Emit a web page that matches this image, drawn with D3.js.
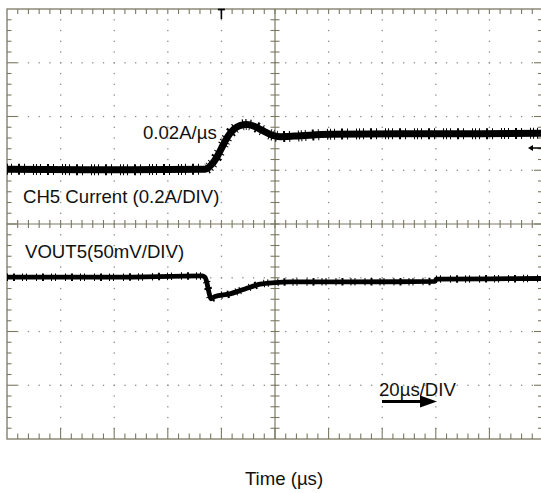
<!DOCTYPE html>
<html>
<head>
<meta charset="utf-8">
<script src="https://cdn.jsdelivr.net/npm/d3@7"></script>
<style>
  html, body { margin: 0; padding: 0; background: #fff; }
  svg { display: block; }
  text { font-family: "Liberation Sans", Arial, Helvetica, sans-serif; fill: #111; }
</style>
</head>
<body>
<svg id="chart" width="541" height="493"></svg>
<script>
// Load-step transient: inductor current (CH5) and output voltage (VOUT5)

// CH5 current, in amps above its pre-step level
const currentTime = [0, 35, 73.9, 76.5, 78.7, 80.6, 82.5, 84.7, 86.9, 89.5, 92.2, 95.1, 98.1, 101.9, 107.5, 120.5, 146.6, 172.8, 200];
const currentAmps = [0, -0.002, 0, 0.019, 0.052, 0.089, 0.123, 0.149, 0.162, 0.166, 0.160, 0.145, 0.130, 0.121, 0.123, 0.130, 0.132, 0.132, 0.134];

// VOUT5 deviation from its nominal value, in mV
const voutTime = [0, 40, 72.8, 73.9, 74.6, 75.4, 76.1, 77.6, 83.2, 86.9, 90.7, 94.4, 100, 105.6, 146.6, 159.7, 160.1, 180, 200];
const voutMilliVolts = [0, 0, 1.2, 0, -5.3, -14.6, -20.2, -18.0, -15.5, -12.5, -9.3, -6.5, -5.0, -4.4, -4.2, -3.9, -1.8, -1.5, -1.2];

// Scope settings
const timePerDiv = 20;          // µs
const currentPerDiv = 0.2;      // A
const voltsPerDiv = 50;         // mV
const currentOffsetDiv = 1.02;  // trace position on screen, divisions
const voutOffsetDiv = -0.99;
const triggerTime = 80;         // µs
const hDivs = 10, vDivs = 8, minorPerDiv = 5;

// Text
const currentSlopeLabel = "0.02A/\u00b5s";
const currentLabel = "CH5 Current (0.2A/DIV)";
const voutLabel = "VOUT5(50mV/DIV)";
const timebaseLabel = "20\u00b5s/DIV";
const xTitle = "Time (\u00b5s)";

const svg = d3.select("#chart");
const frameColor = "#7b7862";
const dotColor = "#8e8c80";

const x = d3.scaleLinear().domain([0, hDivs * timePerDiv]).range([7, 543]);
const y = d3.scaleLinear().domain([-vDivs / 2, vDivs / 2]).range([439, 9]);
const xDiv = d3.scaleLinear().domain([0, hDivs]).range(x.range());

const [x0, x1] = x.range();
const [yB, yT] = y.range();

// dotted graticule
const gDots = svg.append("g");
const minorX = d3.range(0, hDivs * minorPerDiv + 1).map(i => i / minorPerDiv);
const minorY = d3.range(-vDivs / 2 * minorPerDiv, vDivs / 2 * minorPerDiv + 1).map(i => i / minorPerDiv);
d3.range(1, vDivs).map(j => j - vDivs / 2).filter(v => v !== 0).forEach(v => {
  gDots.selectAll(null).data(minorX.slice(1, -1)).enter().append("rect")
    .attr("x", d => xDiv(d) - 0.6).attr("y", y(v) - 0.6)
    .attr("width", 1.3).attr("height", 1.3).attr("fill", dotColor);
});
d3.range(1, hDivs).filter(d => d !== hDivs / 2).forEach(d => {
  gDots.selectAll(null).data(minorY.slice(1, -1)).enter().append("rect")
    .attr("x", xDiv(d) - 0.6).attr("y", v => y(v) - 0.6)
    .attr("width", 1.3).attr("height", 1.3).attr("fill", dotColor);
});

// frame, centre axes and their ticks
const gFrame = svg.append("g").attr("stroke", frameColor).attr("fill", "none");
gFrame.append("rect").attr("x", x0).attr("y", yT).attr("width", x1 - x0).attr("height", yB - yT).attr("stroke-width", 1.3);
gFrame.append("line").attr("x1", xDiv(hDivs / 2)).attr("x2", xDiv(hDivs / 2)).attr("y1", yT).attr("y2", yB).attr("stroke-width", 1.2);
gFrame.append("line").attr("x1", x0).attr("x2", x1).attr("y1", y(0)).attr("y2", y(0)).attr("stroke-width", 1.2);

const isMajor = v => Math.abs(v - Math.round(v)) < 1e-6;
minorX.slice(1, -1).forEach(d => {
  const px = xDiv(d);
  const maj = isMajor(d);
  gFrame.append("line").attr("x1", px).attr("x2", px).attr("y1", yT).attr("y2", yT + 5).attr("stroke-width", 1.1);
  gFrame.append("line").attr("x1", px).attr("x2", px).attr("y1", yB).attr("y2", yB - (maj ? 11 : 5.5)).attr("stroke-width", 1.1);
  gFrame.append("line").attr("x1", px).attr("x2", px).attr("y1", y(0) - 4).attr("y2", y(0) + 4).attr("stroke-width", 1.1);
});
minorY.slice(1, -1).forEach(v => {
  const py = y(v);
  const maj = isMajor(v);
  gFrame.append("line").attr("x1", x0).attr("x2", x0 + (maj ? 10 : 4.5)).attr("y1", py).attr("y2", py).attr("stroke-width", 1.1);
  gFrame.append("line").attr("x1", x1).attr("x2", x1 - (maj ? 9 : 5)).attr("y1", py).attr("y2", py).attr("stroke-width", 1.1);
  gFrame.append("line").attr("x1", xDiv(hDivs / 2) - 4.5).attr("x2", xDiv(hDivs / 2) + 4.5).attr("y1", py).attr("y2", py).attr("stroke-width", 1.1);
});

// traces
svg.append("clipPath").attr("id", "plotClip").append("rect")
  .attr("x", x0).attr("y", yT).attr("width", x1 - x0).attr("height", yB - yT);

const currentData = currentTime.map((t, i) => [t, currentOffsetDiv + currentAmps[i] / currentPerDiv]);
const voutData = voutTime.map((t, i) => [t, voutOffsetDiv + voutMilliVolts[i] / voltsPerDiv]);
const line = d3.line().x(d => x(d[0])).y(d => y(d[1])).curve(d3.curveMonotoneX);

const gTraces = svg.append("g").attr("clip-path", "url(#plotClip)").attr("fill", "none").attr("stroke", "#000");
// noisy fringe on either side of each trace, then the solid core
gTraces.append("path").attr("d", line(currentData)).attr("stroke-width", 11)
  .attr("stroke-dasharray", "1 3 1 6 2 4 1 8 1 2").attr("stroke-linejoin", "round");
gTraces.append("path").attr("d", line(currentData)).attr("stroke-width", 7).attr("stroke-linejoin", "round");
gTraces.append("path").attr("d", line(voutData)).attr("stroke-width", 7.5)
  .attr("stroke-dasharray", "1 5 2 7 1 3 1 9").attr("stroke-linejoin", "round");
gTraces.append("path").attr("d", line(voutData)).attr("stroke-width", 4.8).attr("stroke-linejoin", "round");

// trigger position marker
const trigX = x(triggerTime);
svg.append("line").attr("x1", trigX - 3.5).attr("x2", trigX + 3.5).attr("y1", yT + 0.5).attr("y2", yT + 0.5).attr("stroke", "#000").attr("stroke-width", 1.8);
svg.append("line").attr("x1", trigX).attr("x2", trigX).attr("y1", yT).attr("y2", yT + 10).attr("stroke", "#000").attr("stroke-width", 1.6);

// trigger level marker on the right edge
const trigLevelY = 148;
svg.append("line").attr("x1", 532).attr("x2", 541).attr("y1", trigLevelY).attr("y2", trigLevelY).attr("stroke", "#000").attr("stroke-width", 1.5);
svg.append("path").attr("d", `M528,${trigLevelY} L533,${trigLevelY - 3} L533,${trigLevelY + 3} Z`).attr("fill", "#000");

// annotations
const fs = "18.6px";
svg.append("text").attr("x", 143).attr("y", 139).style("font-size", fs).text(currentSlopeLabel);
svg.append("text").attr("x", 23).attr("y", 203).style("font-size", fs).text(currentLabel);
svg.append("text").attr("x", 25).attr("y", 258).style("font-size", fs).text(voutLabel);
svg.append("text").attr("x", 379).attr("y", 395.5).style("font-size", fs).text(timebaseLabel);

// timebase arrow
svg.append("line").attr("x1", 382).attr("x2", 424).attr("y1", 401.5).attr("y2", 401.5).attr("stroke", "#000").attr("stroke-width", 3);
svg.append("path").attr("d", "M420,395.5 L437,401.5 L420,407.5 Z").attr("fill", "#000");

// x-axis title
svg.append("text").attr("x", 284).attr("y", 485).attr("text-anchor", "middle").style("font-size", fs).text(xTitle);
</script>
</body>
</html>
